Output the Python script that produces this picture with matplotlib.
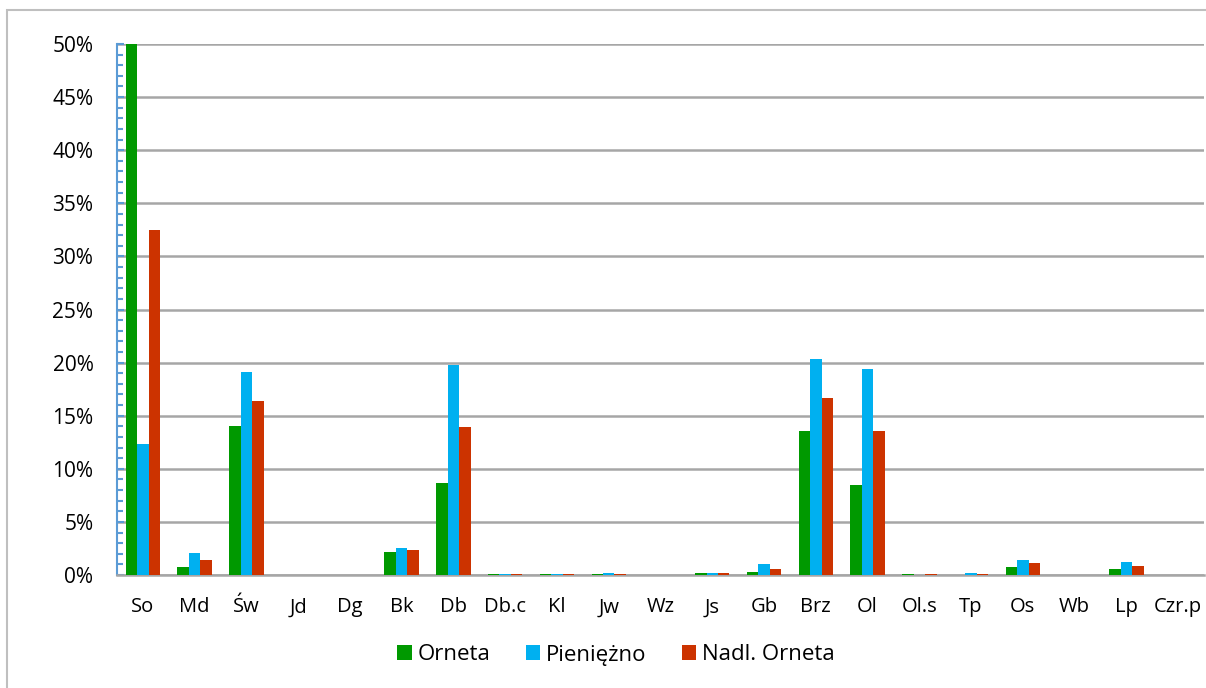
import numpy as np
import matplotlib
matplotlib.use("Agg")
import matplotlib.pyplot as plt
from matplotlib.patches import Rectangle
from matplotlib.ticker import MultipleLocator, PercentFormatter

# ── Data ─────────────────────────────────────────────────────────
categories = ["So", "Md", "Św", "Jd", "Dg", "Bk", "Db", "Db.c", "Kl", "Jw", "Wz",
              "Js", "Gb", "Brz", "Ol", "Ol.s", "Tp", "Os", "Wb", "Lp", "Czr.p"]
orneta    = [50.0, 0.78, 14.0, 0.0, 0.02, 2.16, 8.66, 0.05, 0.05, 0.10, 0.02,
             0.15, 0.28, 13.6, 8.5, 0.05, 0.03, 0.78, 0.02, 0.56, 0.0]
pieniezno = [12.3, 2.1, 19.1, 0.03, 0.02, 2.56, 19.8, 0.05, 0.10, 0.15, 0.02,
             0.15, 1.0, 20.3, 19.4, 0.03, 0.15, 1.44, 0.02, 1.22, 0.03]
nadl      = [32.5, 1.4, 16.4, 0.03, 0.03, 2.37, 13.9, 0.05, 0.08, 0.10, 0.02,
             0.15, 0.6, 16.7, 13.6, 0.05, 0.08, 1.1, 0.02, 0.85, 0.0]
series_names = ["Orneta", "Pieniężno", "Nadl. Orneta"]

GREEN = "#009900"
BLUE  = "#00B0F0"
RED   = "#CC3300"
GRID  = "#A6A6A6"
TEXT  = "#000000"

plt.rcParams["font.family"] = ["Open Sans", "DejaVu Sans"]

fig = plt.figure(figsize=(12.06, 6.88), dpi=100)
fig.patch.set_facecolor("white")

# outer chart border (runs past right/bottom edge)
fig.patches.append(Rectangle((7 / 1206, -0.05), 1.2, 1 - 10 / 688 + 0.05,
                             transform=fig.transFigure, fill=False,
                             edgecolor="#BFBFBF", linewidth=1.5, zorder=0))

ax = fig.add_axes([117 / 1206, 1 - 575 / 688, 1087 / 1206, 531 / 688])

x = np.arange(len(categories))
w = 0.222
ax.bar(x - w, orneta, width=w, color=GREEN, label=series_names[0], zorder=3)
ax.bar(x, pieniezno, width=w, color=BLUE, label=series_names[1], zorder=3)
ax.bar(x + w, nadl, width=w, color=RED, label=series_names[2], zorder=3)

ax.set_xlim(-0.5, len(categories) - 0.5)
ax.set_ylim(0, 50)
ax.yaxis.set_major_locator(MultipleLocator(5))
ax.yaxis.set_minor_locator(MultipleLocator(1))
ax.yaxis.set_major_formatter(PercentFormatter(decimals=0))
ax.grid(axis="y", which="major", color=GRID, linewidth=1.8, zorder=0)

ax.set_xticks(x)
ax.set_xticklabels(categories)
ax.tick_params(axis="x", length=0, pad=16, labelsize=14.5, colors=TEXT)
ax.tick_params(axis="y", which="major", direction="in", length=5, width=1.5,
               color="#5B9BD5", pad=17, labelsize=15, labelcolor=TEXT)
ax.tick_params(axis="y", which="minor", direction="in", length=4, width=1.5,
               color="#5B9BD5")

for s in ["top", "right"]:
    ax.spines[s].set_visible(False)
ax.spines["left"].set_color("#5B9BD5")
ax.spines["left"].set_linewidth(1.5)
ax.spines["bottom"].set_color(GRID)
ax.spines["bottom"].set_linewidth(1.8)

ax.legend(loc="center", bbox_to_anchor=(616 / 1206, 1 - 655 / 688),
          bbox_transform=fig.transFigure, ncol=3, frameon=False,
          fontsize=16, handlelength=0.65, handleheight=0.65,
          handletextpad=0.25, columnspacing=1.6)

fig.savefig("out.png", dpi=100, facecolor=fig.get_facecolor())
